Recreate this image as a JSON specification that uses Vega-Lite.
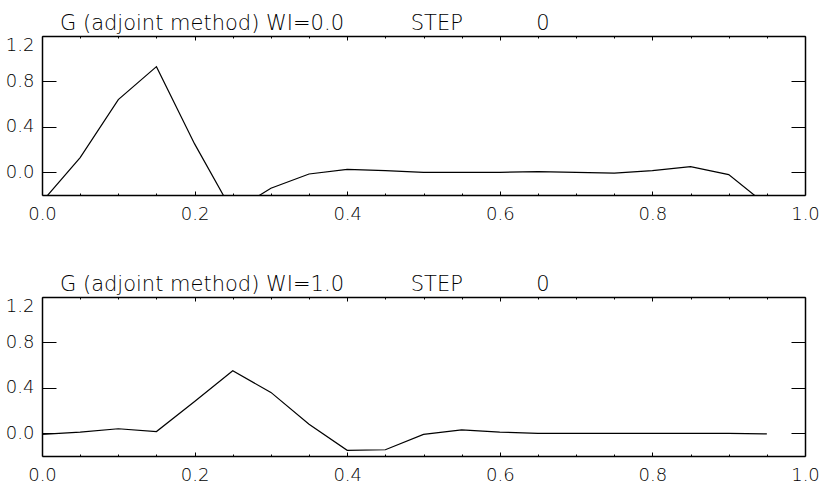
{
  "$schema": "https://vega.github.io/schema/vega-lite/v6.json",
  "padding": {"left": 5, "top": 12, "right": 5, "bottom": 5},
  "background": "white",
  "datasets": {
    "wi0": [
      {"x": 0.00, "g": -0.26}, {"x": 0.05, "g": 0.13}, {"x": 0.10, "g": 0.64}, {"x": 0.15, "g": 0.93},
      {"x": 0.20, "g": 0.25}, {"x": 0.25, "g": -0.35}, {"x": 0.30, "g": -0.14}, {"x": 0.35, "g": -0.015},
      {"x": 0.40, "g": 0.025}, {"x": 0.45, "g": 0.015}, {"x": 0.50, "g": 0.0}, {"x": 0.55, "g": 0.0},
      {"x": 0.60, "g": 0.0}, {"x": 0.65, "g": 0.005}, {"x": 0.70, "g": 0.0}, {"x": 0.75, "g": -0.008},
      {"x": 0.80, "g": 0.015}, {"x": 0.85, "g": 0.05}, {"x": 0.90, "g": -0.02}, {"x": 0.95, "g": -0.29}
    ],
    "wi1": [
      {"x": 0.00, "g": -0.01}, {"x": 0.05, "g": 0.01}, {"x": 0.10, "g": 0.04}, {"x": 0.15, "g": 0.015},
      {"x": 0.20, "g": 0.28}, {"x": 0.25, "g": 0.55}, {"x": 0.30, "g": 0.36}, {"x": 0.35, "g": 0.08},
      {"x": 0.40, "g": -0.15}, {"x": 0.45, "g": -0.145}, {"x": 0.50, "g": -0.01}, {"x": 0.55, "g": 0.03},
      {"x": 0.60, "g": 0.01}, {"x": 0.65, "g": 0.0}, {"x": 0.70, "g": 0.0}, {"x": 0.75, "g": 0.0},
      {"x": 0.80, "g": 0.0}, {"x": 0.85, "g": 0.0}, {"x": 0.90, "g": 0.0}, {"x": 0.95, "g": -0.005}
    ]
  },
  "config": {
    "view": {"stroke": null},
    "font": "DejaVu Sans",
    "axis": {
      "domainColor": "black", "domainWidth": 1.5, "tickColor": "black", "tickWidth": 1,
      "labelFont": "DejaVu Sans", "labelFontSize": 18, "labelFontWeight": 200, "labelColor": "black",
      "grid": false, "title": null, "labelOverlap": false
    },
    "title": {"font": "DejaVu Sans", "fontSize": 21, "fontWeight": 200, "color": "black", "anchor": "start", "frame": "group", "dx": 18, "offset": 2}
  },
  "spacing": 48,
  "vconcat": [
    {
      "title": {"text": "G (adjoint method) WI=0.0\u00a0\u00a0\u00a0\u00a0\u00a0\u00a0\u00a0\u00a0\u00a0\u00a0STEP\u00a0\u00a0\u00a0\u00a0\u00a0\u00a0\u00a0\u00a0\u00a0\u00a0\u00a00"},
      "width": 763, "height": 159,
      "data": {"name": "wi0"},
      "layer": [
        {
          "mark": {"type": "line", "color": "black", "strokeWidth": 1.2, "clip": true},
          "encoding": {
            "x": {"field": "x", "type": "quantitative", "scale": {"domain": [0, 1], "nice": false},
              "axis": {"orient": "bottom", "values": [0, 0.05, 0.1, 0.15, 0.2, 0.25, 0.3, 0.35, 0.4, 0.45, 0.5, 0.55, 0.6, 0.65, 0.7, 0.75, 0.8, 0.85, 0.9, 0.95, 1.0],
                "tickSize": {"condition": {"test": "abs(datum.value*5-round(datum.value*5))<0.001", "value": -4}, "value": -2},
                "labelExpr": "abs(datum.value*5-round(datum.value*5))<0.001 ? format(datum.value,'.1f') : ''",
                "labelPadding": 14, "labelFlush": false}},
            "y": {"field": "g", "type": "quantitative", "scale": {"domain": [-0.2, 1.2], "nice": false, "zero": false},
              "axis": {"orient": "left", "values": [0, 0.4, 0.8, 1.2], "tickSize": -14, "labelPadding": 22, "format": ".1f", "labelFlush": true, "labelFlushOffset": 0}}
          }
        },
        {
          "mark": {"type": "line", "strokeOpacity": 0, "clip": true},
          "encoding": {
            "x": {"field": "x", "type": "quantitative",
              "axis": {"orient": "top", "labels": false, "values": [0, 0.05, 0.1, 0.15, 0.2, 0.25, 0.3, 0.35, 0.4, 0.45, 0.5, 0.55, 0.6, 0.65, 0.7, 0.75, 0.8, 0.85, 0.9, 0.95, 1.0],
                "tickSize": {"condition": {"test": "abs(datum.value*5-round(datum.value*5))<0.001", "value": -4}, "value": -2}}},
            "y": {"field": "g", "type": "quantitative",
              "axis": {"orient": "right", "labels": false, "values": [0, 0.4, 0.8, 1.2], "tickSize": -14}}
          }
        }
      ],
      "resolve": {"axis": {"x": "independent", "y": "independent"}}
    },
    {
      "title": {"text": "G (adjoint method) WI=1.0\u00a0\u00a0\u00a0\u00a0\u00a0\u00a0\u00a0\u00a0\u00a0\u00a0STEP\u00a0\u00a0\u00a0\u00a0\u00a0\u00a0\u00a0\u00a0\u00a0\u00a0\u00a00"},
      "width": 763, "height": 159,
      "data": {"name": "wi1"},
      "layer": [
        {
          "mark": {"type": "line", "color": "black", "strokeWidth": 1.2, "clip": true},
          "encoding": {
            "x": {"field": "x", "type": "quantitative", "scale": {"domain": [0, 1], "nice": false},
              "axis": {"orient": "bottom", "values": [0, 0.05, 0.1, 0.15, 0.2, 0.25, 0.3, 0.35, 0.4, 0.45, 0.5, 0.55, 0.6, 0.65, 0.7, 0.75, 0.8, 0.85, 0.9, 0.95, 1.0],
                "tickSize": {"condition": {"test": "abs(datum.value*5-round(datum.value*5))<0.001", "value": -4}, "value": -2},
                "labelExpr": "abs(datum.value*5-round(datum.value*5))<0.001 ? format(datum.value,'.1f') : ''",
                "labelPadding": 14, "labelFlush": false}},
            "y": {"field": "g", "type": "quantitative", "scale": {"domain": [-0.2, 1.2], "nice": false, "zero": false},
              "axis": {"orient": "left", "values": [0, 0.4, 0.8, 1.2], "tickSize": -14, "labelPadding": 22, "format": ".1f", "labelFlush": true, "labelFlushOffset": 0}}
          }
        },
        {
          "mark": {"type": "line", "strokeOpacity": 0, "clip": true},
          "encoding": {
            "x": {"field": "x", "type": "quantitative",
              "axis": {"orient": "top", "labels": false, "values": [0, 0.05, 0.1, 0.15, 0.2, 0.25, 0.3, 0.35, 0.4, 0.45, 0.5, 0.55, 0.6, 0.65, 0.7, 0.75, 0.8, 0.85, 0.9, 0.95, 1.0],
                "tickSize": {"condition": {"test": "abs(datum.value*5-round(datum.value*5))<0.001", "value": -4}, "value": -2}}},
            "y": {"field": "g", "type": "quantitative",
              "axis": {"orient": "right", "labels": false, "values": [0, 0.4, 0.8, 1.2], "tickSize": -14}}
          }
        }
      ],
      "resolve": {"axis": {"x": "independent", "y": "independent"}}
    }
  ]
}
